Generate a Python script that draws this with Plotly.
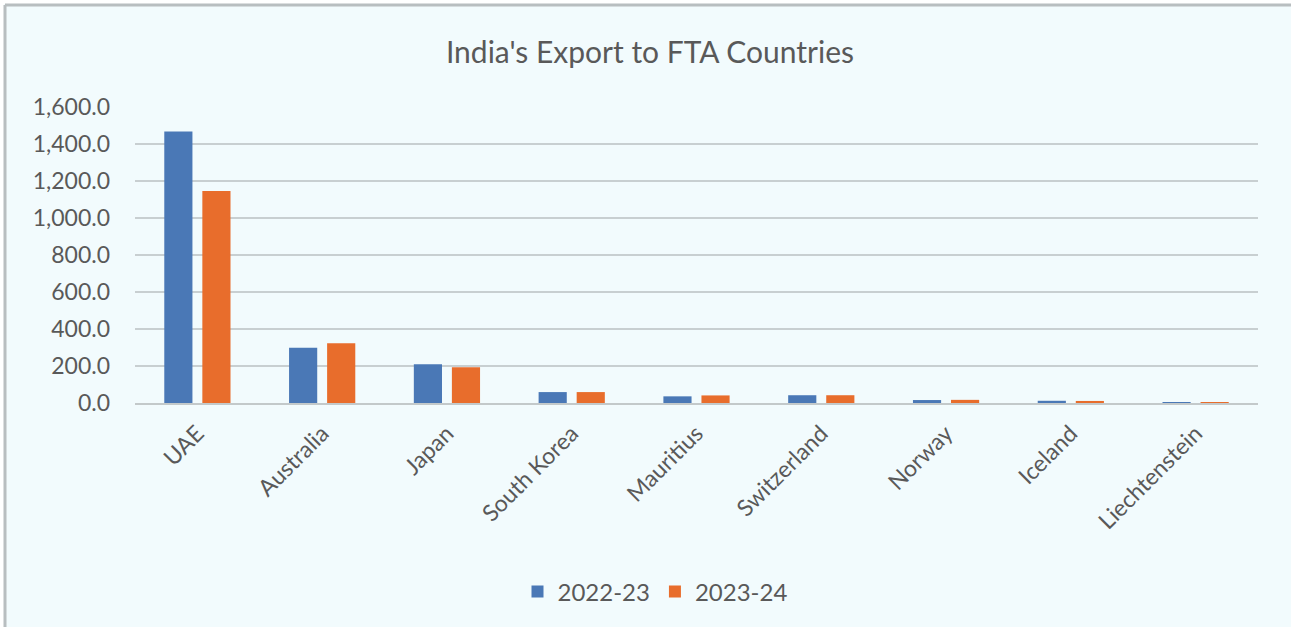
import plotly.graph_objects as go

countries = ["UAE", "Australia", "Japan", "South Korea", "Mauritius",
             "Switzerland", "Norway", "Iceland", "Liechtenstein"]
exports_2022_23 = [1467, 299, 209, 59, 36, 42, 16, 12, 0.5]
exports_2023_24 = [1146, 323, 193, 59, 41, 42, 17, 11, 0.5]
y_ticks = [0, 200, 400, 600, 800, 1000, 1200, 1400, 1600]
y_tick_labels = ["0.0", "200.0", "400.0", "600.0", "800.0",
                 "1,000.0", "1,200.0", "1,400.0", "1,600.0"]

W, H = 1291, 627
L, R, T, B = 135, 33, 107, 224
pw, ph = W - L - R, H - T - B


def px_x(p):
    return (p - L) / pw


def px_y(p):
    return (H - B - p) / ph


font_family = "Lato, 'Open Sans', sans-serif"
text_color = "#595959"
frame_color = "#B8BEC0"

fig = go.Figure()
fig.add_trace(go.Bar(x=countries, y=exports_2022_23, name="2022-23",
                     marker=dict(color="#4A78B6", line=dict(width=0))))
fig.add_trace(go.Bar(x=countries, y=exports_2023_24, name="2023-24",
                     marker=dict(color="#E86D2C", line=dict(width=0))))

# white strip outside the chart frame (top and left)
for x0, x1, y0, y1 in [(-10, W + 10, -10, 4), (-10, 4, -10, H + 10)]:
    fig.add_shape(type="rect", xref="paper", yref="paper",
                  x0=px_x(x0), x1=px_x(x1), y0=px_y(y1), y1=px_y(y0),
                  fillcolor="white", line=dict(width=0), layer="below")
# frame edges (top and left)
fig.add_shape(type="line", xref="paper", yref="paper",
              x0=px_x(5), x1=px_x(W + 10), y0=px_y(5), y1=px_y(5),
              line=dict(color=frame_color, width=3), layer="below")
fig.add_shape(type="line", xref="paper", yref="paper",
              x0=px_x(5), x1=px_x(5), y0=px_y(5), y1=px_y(H + 10),
              line=dict(color=frame_color, width=3), layer="below")

fig.update_layout(
    width=W, height=H,
    margin=dict(l=L, r=R, t=T, b=B, pad=0),
    paper_bgcolor="#F2FBFD",
    plot_bgcolor="rgba(0,0,0,0)",
    barmode="group",
    bargap=0.39,
    bargroupgap=0.26,
    title=dict(text="India's Export to FTA Countries",
               x=650 / W, xanchor="center",
               y=1 - 52 / H, yanchor="middle",
               font=dict(family=font_family, size=30, color=text_color)),
    font=dict(family=font_family, color=text_color),
    legend=dict(orientation="h", x=px_x(655), xanchor="center",
                y=px_y(592), yanchor="middle",
                font=dict(size=24, color=text_color),
                bgcolor="rgba(0,0,0,0)"),
    showlegend=True,
)
fig.update_xaxes(tickangle=-45, tickfont=dict(size=23, color=text_color),
                 showline=True, linecolor="#C3C9CA", linewidth=2,
                 ticks="", showgrid=False, ticklabelstandoff=6)
fig.update_yaxes(range=[0, 1600], tickvals=y_ticks, ticktext=y_tick_labels,
                 tickfont=dict(size=23, color=text_color),
                 showgrid=True, gridcolor="#C8CFD1", gridwidth=2,
                 zeroline=False, ticks="", ticklabelstandoff=24)

fig.write_html("out.html")
